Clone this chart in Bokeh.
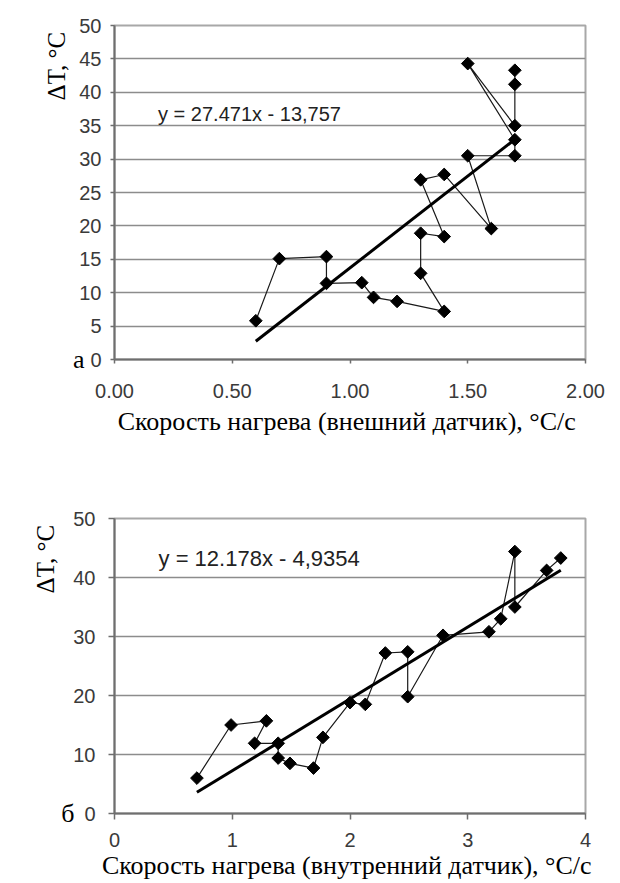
import math
from bokeh.plotting import figure
from bokeh.layouts import column
from bokeh.models import (Range1d, FixedTicker, NumeralTickFormatter, Label, ColumnDataSource,
                          LinearAxis, Title)
from bokeh.embed import file_html
from bokeh.resources import INLINE

# ---- data (chart a: external sensor) ----
a_x = [0.60, 0.70, 0.90, 0.90, 1.05, 1.10, 1.20, 1.40, 1.30, 1.30, 1.40, 1.30, 1.40, 1.60, 1.50, 1.70, 1.70, 1.50, 1.70, 1.70, 1.70]
a_y = [5.8, 15.1, 15.4, 11.4, 11.5, 9.3, 8.7, 7.2, 12.9, 18.9, 18.4, 26.9, 27.7, 19.6, 30.5, 30.5, 32.9, 44.3, 35.0, 41.2, 43.3]
a_slope, a_icpt = 27.471, -13.757
a_eq = "y = 27.471x - 13,757"
a_xticks = [0.0, 0.5, 1.0, 1.5, 2.0]
a_yticks = [0, 5, 10, 15, 20, 25, 30, 35, 40, 45, 50]
a_xtitle = "Скорость нагрева (внешний датчик),  °C/с"

# ---- data (chart б: internal sensor) ----
b_x = [0.70, 0.99, 1.29, 1.19, 1.39, 1.39, 1.49, 1.69, 1.77, 2.00, 2.13, 2.30, 2.49, 2.49, 2.79, 3.18, 3.28, 3.40, 3.40, 3.67, 3.79]
b_y = [6.0, 15.0, 15.7, 11.9, 11.9, 9.4, 8.5, 7.7, 12.9, 18.8, 18.5, 27.2, 27.4, 19.8, 30.2, 30.8, 33.0, 44.4, 35.0, 41.2, 43.3]
b_slope, b_icpt = 12.178, -4.9354
b_eq = "y = 12.178x - 4,9354"
b_xticks = [0, 1, 2, 3, 4]
b_yticks = [0, 10, 20, 30, 40, 50]
b_xtitle = "Скорость нагрева (внутренний датчик),  °C/с"

ytitle = "ΔT,  °C"

SERIF = "Liberation Serif"
SANS = "Liberation Sans"


def make_fig(xs, ys, slope, icpt, eq, eq_pos, eq_size, xr, xticks, yticks, xfmt, xtitle,
             height, borders, tick_out, tick_standoff, ytick_standoff, title_standoff,
             letter, letter_standoff):
    left, right, top, bottom = borders
    p = figure(width=620, height=height, x_range=Range1d(*xr), y_range=Range1d(0, 50),
               output_backend="svg", toolbar_location=None,
               min_border_left=left, min_border_right=right,
               min_border_top=top, min_border_bottom=bottom)
    p.background_fill_color = "white"
    p.border_fill_color = "white"
    p.outline_line_color = "#a8a8a8"
    p.outline_line_width = 2
    p.xgrid.grid_line_color = None
    p.ygrid.grid_line_color = "#8c8c8c"
    p.ygrid.grid_line_width = 1.5
    p.xaxis.ticker = FixedTicker(ticks=xticks)
    p.yaxis.ticker = FixedTicker(ticks=yticks)
    if xfmt:
        p.xaxis.formatter = NumeralTickFormatter(format=xfmt)
    for ax in (p.xaxis[0], p.yaxis[0]):
        ax.axis_line_color = "#6e6e6e"
        ax.axis_line_width = 2
        ax.major_tick_line_color = "#6e6e6e"
        ax.major_tick_line_width = 1.5
        ax.major_tick_in = 0
        ax.minor_tick_line_color = None
        ax.major_label_text_font = SANS
        ax.major_label_text_font_size = "20px"
        ax.major_label_text_color = "#3a3a3a"
    p.xaxis.major_tick_out = tick_out
    p.yaxis.major_tick_out = tick_out
    p.xaxis.major_label_standoff = tick_standoff
    p.yaxis.major_label_standoff = ytick_standoff
    p.xaxis.axis_label = xtitle
    p.xaxis.axis_label_text_font = SERIF
    p.xaxis.axis_label_text_font_size = "26px"
    p.xaxis.axis_label_text_font_style = "normal"
    p.xaxis.axis_label_text_color = "black"
    p.xaxis.axis_label_standoff = title_standoff

    # panel letter (а / б) next to the bottom of the y axis
    letter_ax = LinearAxis(ticker=FixedTicker(ticks=[0]), major_label_overrides={0: letter},
                           axis_line_color=None, major_tick_line_color=None,
                           minor_tick_line_color=None, major_tick_out=0, major_tick_in=0,
                           major_label_standoff=letter_standoff, major_label_text_font=SERIF,
                           major_label_text_font_size="26px", major_label_text_color="black")
    p.add_layout(letter_ax, "left")
    # y-axis title at the top end of the axis
    p.add_layout(Title(text=ytitle, align="right", offset=0, standoff=0,
                       text_font=SERIF, text_font_size="25px", text_font_style="normal",
                       text_color="black"), "left")

    src = ColumnDataSource(dict(x=xs, y=ys))
    p.line("x", "y", source=src, line_color="#1a1a1a", line_width=1.2)
    p.scatter("x", "y", source=src, marker="square", angle=math.pi / 4, size=9,
              fill_color="black", line_color="black")
    fx = [min(xs), max(xs)]
    fy = [slope * v + icpt for v in fx]
    p.line(fx, fy, line_color="black", line_width=3)

    p.add_layout(Label(x=eq_pos[0], y=eq_pos[1], text=eq, text_font=SANS,
                       text_font_size=eq_size, text_color="#222222",
                       text_baseline="middle", text_align="left"))
    return p


p1 = make_fig(a_x, a_y, a_slope, a_icpt, a_eq, (0.185, 36.8), "20px", (0, 2), a_xticks, a_yticks,
              "0.00", a_xtitle, 442, (112, 21, 25, 83), 4, 20, 9, 6, "а", -8)
p2 = make_fig(b_x, b_y, b_slope, b_icpt, b_eq, (0.374, 43.3), "22px", (0, 4), b_xticks, b_yticks,
              None, b_xtitle, 441, (114, 35, 76, 70), 6, 13, 13, 1, "б", -4)

layout = column(p1, p2, spacing=0)
open("out.html", "w").write(file_html(layout, INLINE))
